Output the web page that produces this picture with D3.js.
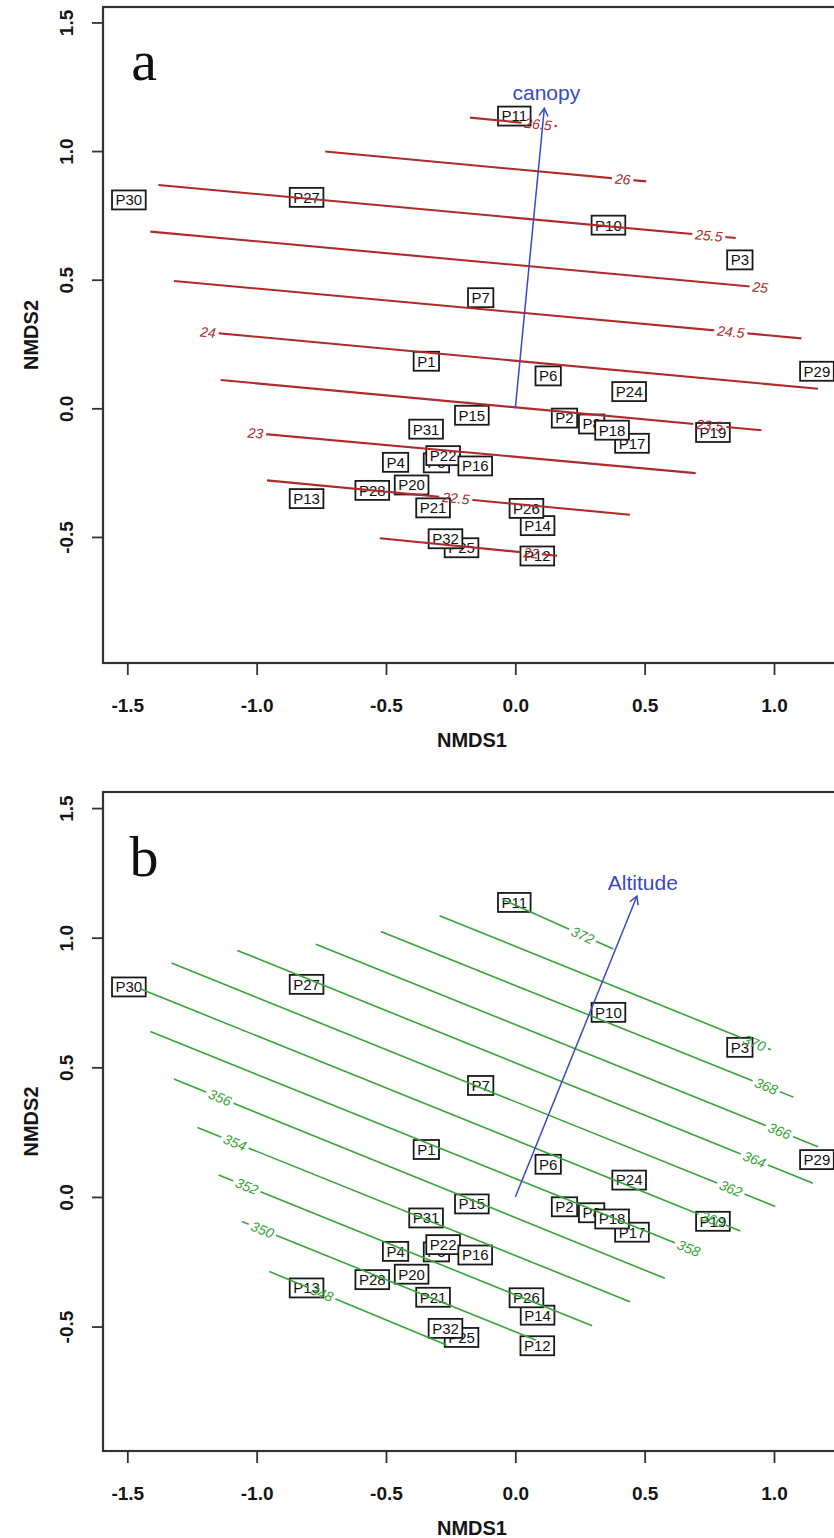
<!DOCTYPE html>
<html>
<head>
<meta charset="utf-8">
<script src="https://d3js.org/d3.v7.min.js"></script>
<style>
  body { margin: 0; background: #ffffff; }
  svg text { font-family: "Liberation Sans Narrow", "Liberation Sans", Arial, sans-serif; }
  .tick text { font-size: 19px; font-weight: bold; fill: #151515; }
  .axis-title { font-size: 20px; font-weight: bold; fill: #151515; }
  .site text { font-size: 15px; fill: #111; }
  .clabel { font-size: 14px; font-style: italic; }
  .panel-letter { font-family: "Liberation Serif", "Times New Roman", serif !important; font-size: 58px; fill: #111; }
</style>
</head>
<body>
<div id="chart"></div>
<script>
// axis ticks
const xTicks = [-1.5, -1.0, -0.5, 0.0, 0.5, 1.0];
const yTicks = [-0.5, 0.0, 0.5, 1.0, 1.5];

// NMDS site scores (drawing order: later ones sit on top)
const siteNames = ["P30","P27","P11","P10","P3","P7","P1","P29","P6","P24","P15","P2","P8","P17","P18","P19",
                   "P31","P5","P4","P22","P16","P20","P28","P13","P21","P14","P26","P25","P32","P12"];
const siteX = [-1.494,-0.807,-0.004,0.360,0.868,-0.134,-0.344,1.166,0.127,0.440,-0.168,0.190,0.295,0.451,0.374,0.764,
               -0.345,-0.305,-0.463,-0.279,-0.155,-0.401,-0.553,-0.807,-0.318,0.086,0.043,-0.208,-0.270,0.085];
const siteY = [0.810,0.820,1.136,0.712,0.577,0.430,0.183,0.144,0.126,0.065,-0.027,-0.038,-0.061,-0.136,-0.085,-0.094,
               -0.081,-0.212,-0.210,-0.184,-0.224,-0.298,-0.319,-0.351,-0.387,-0.456,-0.389,-0.542,-0.507,-0.574];

// canopy surface contours (panel a)
const canopyLevels = ["22","22.5","23","23.5","24","24.5","25","25.5","26","26.5"];
const canopyLines = [
  [[-0.524,-0.505],[0.161,-0.573]],
  [[-0.960,-0.280],[0.443,-0.414]],
  [[-1.035,-0.094],[0.697,-0.252]],
  [[-1.139,0.110],[0.951,-0.085]],
  [[-1.215,0.298],[1.170,0.076]],
  [[-1.320,0.495],[1.106,0.272]],
  [[-1.411,0.687],[0.980,0.467]],
  [[-1.380,0.868],[0.852,0.662]],
  [[-0.735,0.998],[0.506,0.882]],
  [[-0.175,1.130],[0.160,1.097]]
];
const canopyLabelX = [0.061,-0.230,-1.005,0.752,-1.188,0.833,0.947,0.748,0.415,0.088];

// altitude surface contours (panel b)
const altitudeLevels = ["348","350","352","354","356","358","360","362","364","366","368","370","372"];
const altitudeLines = [
  [[-0.951,-0.288],[-0.266,-0.571]],
  [[-1.057,-0.095],[0.079,-0.552]],
  [[-1.147,0.085],[0.297,-0.497]],
  [[-1.229,0.268],[0.443,-0.404]],
  [[-1.320,0.455],[0.578,-0.314]],
  [[-1.411,0.638],[0.724,-0.220]],
  [[-1.448,0.802],[0.870,-0.131]],
  [[-1.329,0.902],[1.005,-0.037]],
  [[-1.075,0.951],[1.151,0.053]],
  [[-0.771,0.975],[1.170,0.194]],
  [[-0.520,1.024],[1.075,0.385]],
  [[-0.293,1.085],[0.988,0.568]],
  [[-0.049,1.147],[0.379,0.956]]
];
const altitudeLabelX = [-0.748,-0.978,-1.038,-1.084,-1.142,0.670,0.761,0.833,0.924,1.021,0.970,0.924,0.260];

// fitted environmental vectors
const canopyArrow = {name: "canopy", x: 0.112, y: 1.166, labelX: 0.120, labelY: 1.228};
const altitudeArrow = {name: "Altitude", x: 0.470, y: 1.160, labelX: 0.493, labelY: 1.211};

const W = 834, H = 1538;
const svg = d3.select("#chart").append("svg")
  .attr("width", W).attr("height", H)
  .style("display", "block");
svg.append("rect").attr("width", W).attr("height", H).attr("fill", "#fff");
const defs = svg.append("defs");

const x = d3.scaleLinear().domain([-1.594, 1.259]).range([103, 841]);

const panels = [
  {id: "a", top: 7, bottom: 663, yDomain: [-0.99, 1.56], letterY: 80,
   levels: canopyLevels, lines: canopyLines, labelX: canopyLabelX, color: "#b02a2c", lw: 2.1, arrow: canopyArrow},
  {id: "b", top: 792, bottom: 1451, yDomain: [-0.98, 1.562], letterY: 876,
   levels: altitudeLevels, lines: altitudeLines, labelX: altitudeLabelX, color: "#38a438", lw: 1.6, arrow: altitudeArrow}
];

function interpY(line, xv) {
  let i = 0;
  while (i < line.length - 2 && xv > line[i + 1][0]) i++;
  const a = line[i], b = line[i + 1];
  return {y: a[1] + (b[1] - a[1]) * (xv - a[0]) / (b[0] - a[0]), a, b};
}

panels.forEach(p => {
  const y = d3.scaleLinear().domain(p.yDomain).range([p.bottom, p.top]);
  const g = svg.append("g");

  defs.append("clipPath").attr("id", "clip-" + p.id)
    .append("rect").attr("x", 103).attr("y", p.top).attr("width", 841 - 103).attr("height", p.bottom - p.top);

  // x axis
  const xa = g.append("g").attr("transform", `translate(0,${p.bottom})`)
    .call(d3.axisBottom(x).tickValues(xTicks).tickSize(12).tickPadding(24).tickFormat(d => d.toFixed(1)));
  xa.select(".domain").remove();
  xa.selectAll(".tick line").attr("stroke", "#333").attr("stroke-width", 1.8);

  // y axis, labels parallel to the axis
  const ya = g.append("g").attr("transform", "translate(103,0)")
    .call(d3.axisLeft(y).tickValues(yTicks).tickSize(11).tickFormat(d => d.toFixed(1)));
  ya.select(".domain").remove();
  ya.selectAll(".tick line").attr("stroke", "#333").attr("stroke-width", 1.8);
  ya.selectAll(".tick text")
    .attr("x", null).attr("dy", null)
    .attr("text-anchor", "middle")
    .attr("transform", "translate(-30,0) rotate(-90)");

  // axis titles
  g.append("text").attr("class", "axis-title")
    .attr("x", 472).attr("y", p.bottom + 84).attr("text-anchor", "middle").text("NMDS1");
  g.append("text").attr("class", "axis-title")
    .attr("text-anchor", "middle")
    .attr("transform", `translate(38,${(p.top + p.bottom) / 2}) rotate(-90)`).text("NMDS2");

  // plot frame
  g.append("rect").attr("x", 103).attr("y", p.top).attr("width", 841 - 103).attr("height", p.bottom - p.top)
    .attr("fill", "none").attr("stroke", "#333").attr("stroke-width", 2.2);

  // panel letter
  g.append("text").attr("class", "panel-letter")
    .attr("x", 144).attr("y", p.letterY).attr("text-anchor", "middle").text(p.id);

  const plot = g.append("g").attr("clip-path", `url(#clip-${p.id})`);

  // site labels in boxes
  siteNames.forEach((name, i) => {
    const sg = plot.append("g").attr("class", "site")
      .attr("transform", `translate(${x(siteX[i])},${y(siteY[i])})`);
    const rect = sg.append("rect");
    const t = sg.append("text").attr("text-anchor", "middle").attr("dy", "0.36em").text(name);
    const w = t.node().getComputedTextLength() + 7;
    rect.attr("x", -w / 2).attr("y", -9.5).attr("width", w).attr("height", 19)
      .attr("fill", "#fff").attr("stroke", "#1a1a1a").attr("stroke-width", 1.8);
  });

  // contour labels and gaps in the lines under them
  const mask = defs.append("mask").attr("id", "mask-" + p.id).attr("maskUnits", "userSpaceOnUse")
    .attr("x", 0).attr("y", 0).attr("width", W).attr("height", H);
  mask.append("rect").attr("width", W).attr("height", H).attr("fill", "#fff");

  const labels = plot.append("g");
  p.lines.forEach((line, i) => {
    const r = interpY(line, p.labelX[i]);
    const px = x(p.labelX[i]), py = y(r.y);
    const ang = Math.atan2(y(r.b[1]) - y(r.a[1]), x(r.b[0]) - x(r.a[0])) * 180 / Math.PI;
    const t = labels.append("text").attr("class", "clabel")
      .attr("fill", p.color).attr("text-anchor", "middle").attr("dy", "0.35em")
      .attr("transform", `translate(${px},${py}) rotate(${ang})`)
      .text(p.levels[i]);
    const w = t.node().getComputedTextLength() + 6;
    mask.append("rect").attr("x", -w / 2).attr("y", -6).attr("width", w).attr("height", 12)
      .attr("fill", "#000").attr("transform", `translate(${px},${py}) rotate(${ang})`);
  });

  const lineGen = d3.line().x(d => x(d[0])).y(d => y(d[1]));
  plot.append("g").attr("mask", `url(#mask-${p.id})`)
    .selectAll("path").data(p.lines).join("path")
    .attr("d", lineGen)
    .attr("fill", "none").attr("stroke", p.color).attr("stroke-width", p.lw);

  // environmental vector
  const blue = "#3a4ac4";
  const x0 = x(0), y0 = y(0), x1 = x(p.arrow.x), y1 = y(p.arrow.y);
  const a = Math.atan2(y1 - y0, x1 - x0);
  const hl = 9, ha = Math.PI / 6;
  plot.append("line").attr("x1", x0).attr("y1", y0).attr("x2", x1).attr("y2", y1)
    .attr("stroke", blue).attr("stroke-width", 1.5);
  plot.append("path")
    .attr("d", `M${x1 - hl * Math.cos(a - ha)},${y1 - hl * Math.sin(a - ha)}L${x1},${y1}L${x1 - hl * Math.cos(a + ha)},${y1 - hl * Math.sin(a + ha)}`)
    .attr("fill", "none").attr("stroke", blue).attr("stroke-width", 1.5);
  plot.append("text").attr("x", x(p.arrow.labelX)).attr("y", y(p.arrow.labelY))
    .attr("dy", "0.35em").attr("text-anchor", "middle")
    .style("font-size", "21px").attr("fill", blue).text(p.arrow.name);
});
</script>
</body>
</html>
